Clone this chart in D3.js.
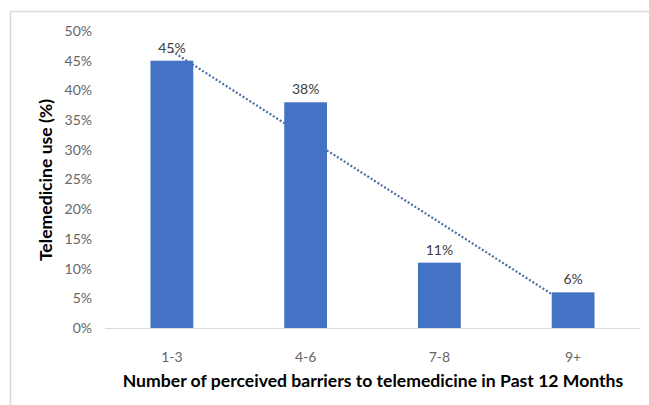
<!DOCTYPE html>
<html>
<head>
<meta charset="utf-8">
<script src="https://cdn.jsdelivr.net/npm/d3@7"></script>
<style>
  body { margin: 0; background: #fff; }
  text { font-family: Lato, "Open Sans", sans-serif; }
</style>
</head>
<body>
<script>
// chart data
var categories = ["1-3", "4-6", "7-8", "9+"];
var values = [45, 38, 11, 6];
var yTicks = [0, 5, 10, 15, 20, 25, 30, 35, 40, 45, 50];

var width = 649, height = 405;
var margin = { top: 31, right: 9, bottom: 77, left: 105 };

var svg = d3.select("body")
  .append("svg")
  .attr("width", width)
  .attr("height", height);

// outer frame
svg.append("rect")
  .attr("x", 10.5).attr("y", 11.5)
  .attr("width", width + 10).attr("height", height + 10)
  .style("fill", "none")
  .style("stroke", "#d9d9d9")
  .style("stroke-width", 1.5);

var x = d3.scaleBand()
  .domain(categories)
  .range([margin.left, width - margin.right])
  .paddingInner(0.68)
  .paddingOuter(0.34);

var y = d3.scaleLinear()
  .domain([0, 50])
  .range([height - margin.bottom, margin.top]);

// y tick labels (no gridlines)
svg.append("g")
  .selectAll("text")
  .data(yTicks)
  .enter().append("text")
  .attr("x", 92)
  .attr("y", function (d) { return y(d); })
  .attr("dy", "0.35em")
  .attr("text-anchor", "end")
  .style("font-size", "14px")
  .style("fill", "#666")
  .text(function (d) { return d + "%"; });

// linear trendline (least squares on category index)
var n = values.length;
var mx = d3.mean(values, function (d, i) { return i + 1; });
var my = d3.mean(values);
var sxy = d3.sum(values, function (d, i) { return (i + 1 - mx) * (d - my); });
var sxx = d3.sum(values, function (d, i) { return (i + 1 - mx) * (i + 1 - mx); });
var slope = sxy / sxx, intercept = my - slope * mx;
var trend = categories.map(function (c, i) {
  return [x(c) + x.bandwidth() / 2, y(intercept + slope * (i + 1))];
});

svg.append("path")
  .attr("d", d3.line()([trend[0], trend[n - 1]]))
  .style("fill", "none")
  .style("stroke", "#4a6fa0")
  .style("stroke-width", 2.2)
  .style("stroke-dasharray", "2,2");

// bars
svg.append("g")
  .selectAll("rect")
  .data(values)
  .enter().append("rect")
  .attr("x", function (d, i) { return x(categories[i]); })
  .attr("y", function (d) { return y(d); })
  .attr("width", x.bandwidth())
  .attr("height", function (d) { return y(0) - y(d); })
  .style("fill", "#4472c4");

// value labels
svg.append("g")
  .selectAll("text")
  .data(values)
  .enter().append("text")
  .attr("x", function (d, i) { return x(categories[i]) + x.bandwidth() / 2; })
  .attr("y", function (d) { return y(d) - 8; })
  .attr("text-anchor", "middle")
  .style("font-size", "14px")
  .style("fill", "#404040")
  .text(function (d) { return d + "%"; });

// x axis line
svg.append("line")
  .attr("x1", margin.left).attr("x2", width - margin.right)
  .attr("y1", y(0) + 0.5).attr("y2", y(0) + 0.5)
  .style("stroke", "#d9d9d9")
  .style("stroke-width", 1.2);

// category labels
svg.append("g")
  .selectAll("text")
  .data(categories)
  .enter().append("text")
  .attr("x", function (d) { return x(d) + x.bandwidth() / 2; })
  .attr("y", 362)
  .attr("text-anchor", "middle")
  .style("font-size", "14px")
  .style("fill", "#666")
  .text(function (d) { return d; });

// axis titles
svg.append("text")
  .attr("x", 373)
  .attr("y", 387)
  .attr("text-anchor", "middle")
  .style("font-size", "17.6px")
  .style("font-weight", "bold")
  .style("fill", "#000")
  .text("Number of perceived barriers to telemedicine in Past 12 Months");

svg.append("text")
  .attr("transform", "translate(52,180) rotate(-90)")
  .attr("text-anchor", "middle")
  .style("font-size", "17.6px")
  .style("font-weight", "bold")
  .style("fill", "#000")
  .text("Telemedicine use (%)");
</script>
</body>
</html>
